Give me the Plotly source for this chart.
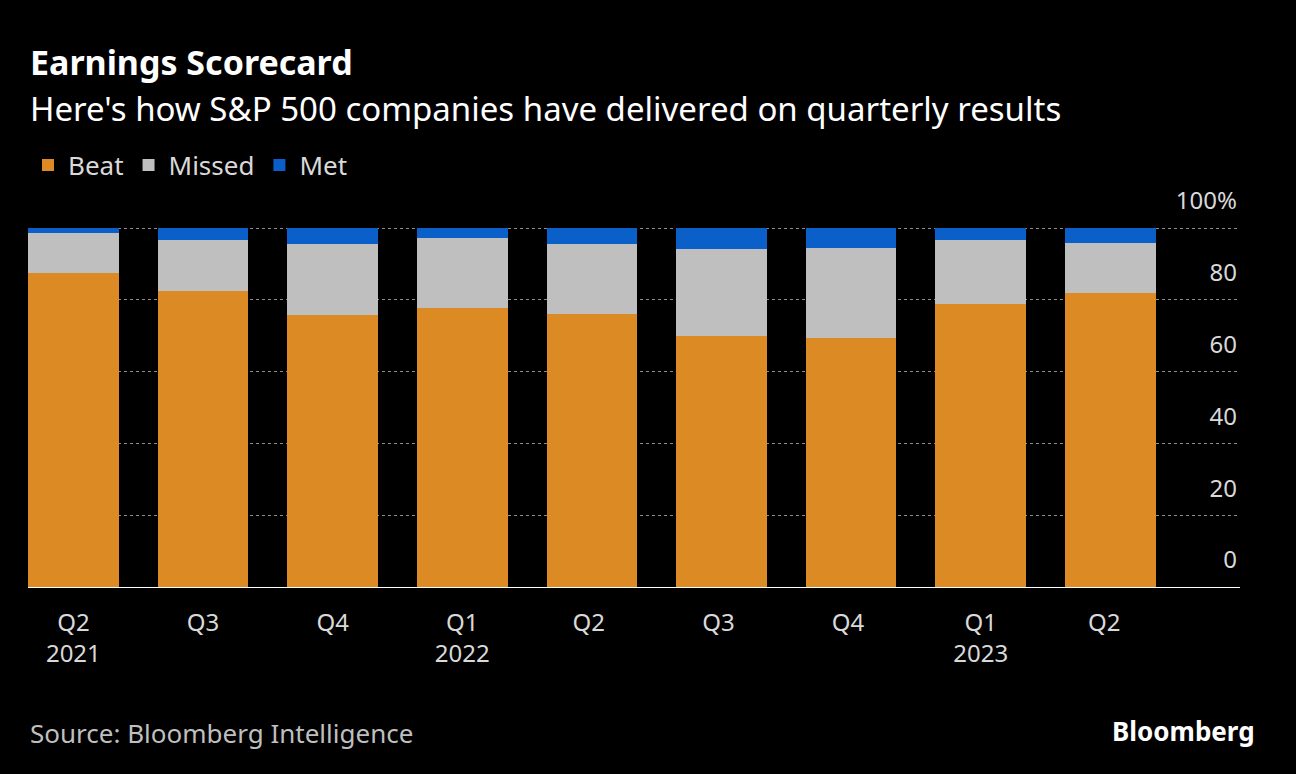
import plotly.graph_objects as go

quarters = ["Q2<br>2021", "Q3", "Q4", "Q1<br>2022", "Q2 ", "Q3 ", "Q4 ", "Q1<br>2023", "Q2  "]
beat = [87.5, 82.5, 75.8, 77.7, 76.0, 69.9, 69.4, 78.8, 81.9]
missed = [11.1, 14.2, 19.7, 19.5, 19.5, 24.3, 25.0, 17.9, 13.9]
met = [1.4, 3.3, 4.5, 2.8, 4.5, 5.8, 5.6, 3.3, 4.2]
tick_vals = [0, 20, 40, 60, 80, 100]
tick_text = ["0", "20", "40", "60", "80", "100%"]

FONT = "Noto Sans"
fig = go.Figure()
for name, vals, col in [("Beat", beat, "#dc8a24"), ("Missed", missed, "#bfbfbf"), ("Met", met, "#0a5fc8")]:
    fig.add_trace(go.Bar(x=quarters, y=vals, name=name, marker_color=col,
                         marker_line_width=0, width=0.7))

ph = 774 - 180 - 187
pw = 1296 - 28 - 56
def py(pix):
    return (587 - pix) / ph

fig.update_layout(
    barmode="stack", width=1296, height=774,
    paper_bgcolor="black", plot_bgcolor="black",
    font=dict(family=FONT, color="#d9d9d9", size=24),
    margin=dict(l=28, r=56, t=180, b=187),
    legend=dict(orientation="h", x=0, xanchor="left", y=py(165), yanchor="middle",
                font=dict(size=26, color="#d9d9d9"), itemwidth=30, traceorder="normal"),
    xaxis=dict(range=[-0.35, 9.0], showline=True, linecolor="white", linewidth=1,
               ticks="", ticklabelstandoff=14, tickfont=dict(size=24, color="#d9d9d9"),
               showgrid=False),
    yaxis=dict(range=[0, 100 * ph / 359], side="right", tickvals=tick_vals, ticktext=tick_text,
               ticklabelposition="inside", ticklabelshift=-27, ticklabelstandoff=0,
               showgrid=True, gridcolor="#8c8c8c", griddash="dot", gridwidth=1,
               zeroline=False, tickfont=dict(size=24, color="#d9d9d9")),
    annotations=[
        dict(text="<b>Earnings Scorecard</b>", x=0, y=py(62), xanchor="left", yanchor="middle",
             font=dict(size=34, color="white")),
        dict(text="Here's how S&P 500 companies have delivered on quarterly results",
             x=0, y=py(108), xanchor="left", yanchor="middle", font=dict(size=33, color="white")),
        dict(text="Source: Bloomberg Intelligence", x=0, y=py(733), xanchor="left",
             yanchor="middle", font=dict(size=26, color="#bfbfbf")),
        dict(text="<b>Bloomberg</b>", x=(1257 - 28) / pw, y=py(731), xanchor="right",
             yanchor="middle", font=dict(size=26, color="white")),
    ],
)
fig.update_annotations(xref="paper", yref="paper", showarrow=False)
fig.write_html("out.html", config={"displayModeBar": False},
               post_script="document.body.style.margin='0';document.body.style.background='black';")
